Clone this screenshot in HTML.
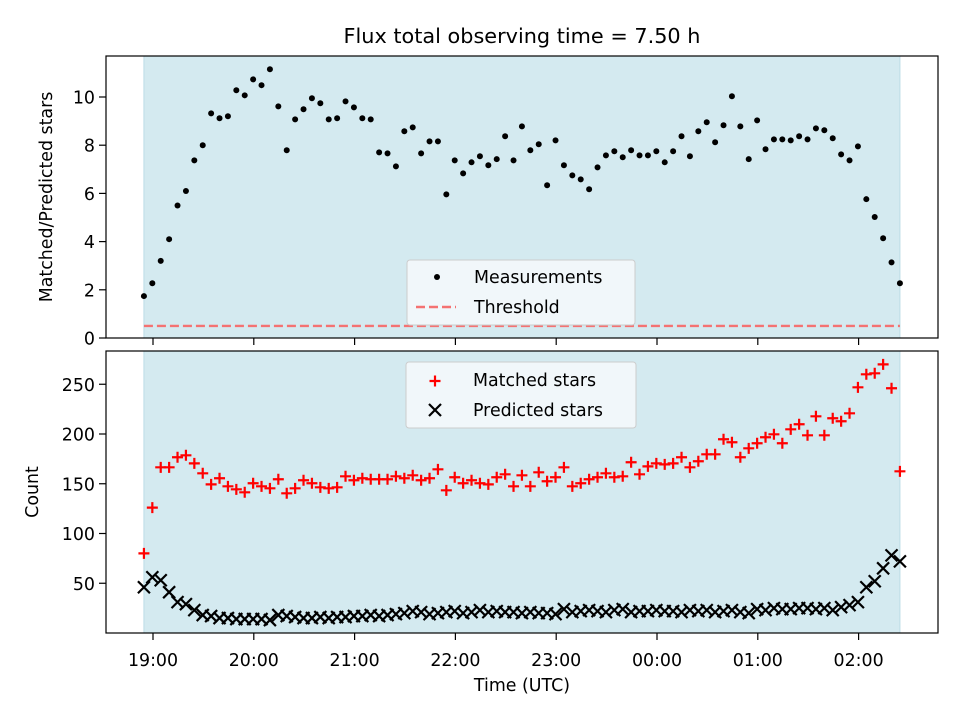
<!DOCTYPE html>
<html><head><meta charset="utf-8"><style>
body{margin:0;background:#fff}
svg{display:block;font-family:"DejaVu Sans","Liberation Sans",sans-serif}
</style></head><body>
<svg id="chart" width="960" height="720" xmlns="http://www.w3.org/2000/svg">
<text x="522" y="43" font-size="20.8" text-anchor="middle">Flux total observing time = 7.50 h</text>
<text transform="translate(52,197) rotate(-90)" font-size="17.4" text-anchor="middle">Matched/Predicted stars</text>
<text transform="translate(38,492) rotate(-90)" font-size="17.4" text-anchor="middle">Count</text>
<text x="522" y="691" font-size="17.4" text-anchor="middle">Time (UTC)</text>
<g id="g"></g>
</svg>
<script>
const ratio=[1.74,2.27,3.2,4.1,5.5,6.1,7.37,8.0,9.32,9.12,9.2,10.28,10.07,10.73,10.49,11.15,9.61,7.79,9.07,9.49,9.95,9.74,9.07,9.12,9.82,9.57,9.12,9.07,7.7,7.66,7.12,8.58,8.74,7.66,8.16,8.16,5.96,7.37,6.83,7.29,7.54,7.17,7.42,8.37,7.37,8.78,7.79,8.04,6.34,8.2,7.17,6.75,6.58,6.17,7.08,7.58,7.75,7.5,7.79,7.58,7.58,7.75,7.29,7.75,8.37,7.54,8.58,8.95,8.12,8.83,10.03,8.78,7.42,9.03,7.83,8.24,8.24,8.2,8.37,8.24,8.7,8.62,8.29,7.62,7.37,7.95,5.76,5.02,4.14,3.14,2.27];
const matched=[80,126,166.5,166.5,176.6,178.6,170.5,160.5,149.4,155.5,147.4,144.4,141.4,150.5,147.4,145.4,154.5,140.4,145.4,153.5,150.5,146.4,145.4,146.4,157.5,153.5,155.5,154.5,154.5,154.5,157.5,155.5,158.5,153.5,155.5,164.5,143.4,156.5,150.5,153.5,150.5,149.4,156.5,159.5,147.4,158.5,147.4,161.5,152.5,156.5,166.5,147.4,150.5,154.5,156.5,160.5,156.5,157.5,171.6,159.5,167.5,170.5,169.5,170.5,176.6,166.5,172.6,179.6,179.6,194.7,191.7,176.6,185.6,190.7,196.7,199.7,190.7,204.7,209.8,198.7,217.8,198.7,215.8,212.8,220.8,246.9,260,261,270,246,162.5];
const predicted=[46,56,53,41,31,29,23,18,17,15,15,14,14,14,14,13,18,17,16,15,15,16,15,16,16,17,17,18,17,18,19,20,22,21,19,20,21,22,20,21,23,21,22,21,21,20,21,20,20,19,24,21,22,23,22,21,23,24,21,22,22,23,22,22,21,23,22,23,21,22,23,21,20,24,23,25,24,24,25,25,24,25,23,26,28,31,46,52,65,78,72];
const topTicks=[0,2,4,6,8,10];
const botTicks=[50,100,150,200,250];
const xTickLabels=["19:00","20:00","21:00","22:00","23:00","00:00","01:00","02:00"];
const startMin=-5.4, stepMin=5, threshold=0.5;

const NS="http://www.w3.org/2000/svg";
const g=document.getElementById('g');
function el(t,a,p){const e=document.createElementNS(NS,t);for(const k in a)e.setAttribute(k,a[k]);(p||g).appendChild(e);return e;}
const L=106,R=938,FS=17.4;
const xS=m=>153+m*100.8/60;
const yTop=v=>338-v*24.1;
const yBot=v=>633-v*0.995;
const tMin=i=>startMin+i*stepMin;
const x0=xS(tMin(0)), x1=xS(tMin(ratio.length-1));

[[56,338,'top'],[351,633,'bottom']].forEach(([t,b,n])=>{
  const s=el('rect',{x:x0,y:t,width:x1-x0,height:b-t,fill:'#d4eaf0',stroke:'#bcdce6','stroke-width':1});
  
  
  const f=el('rect',{x:L,y:t,width:R-L,height:b-t,fill:'none',stroke:'#000','stroke-width':1.2});
  
  
  xTickLabels.forEach((lb,i)=>{
    const x=xS(i*60);
    const tk=el('line',{x1:x,x2:x,y1:b,y2:b+7,stroke:'#000','stroke-width':1.2});
    
    
  });
});
xTickLabels.forEach((lb,i)=>{
  const t=el('text',{x:xS(i*60),y:666,'font-size':FS,'text-anchor':'middle'});
  t.textContent=lb;
  
  
});
topTicks.forEach(v=>{
  const y=yTop(v);
  el('line',{x1:L-7,x2:L,y1:y,y2:y,stroke:'#000','stroke-width':1.2});
  const t=el('text',{x:L-11,y:y+6.5,'font-size':FS,'text-anchor':'end'});
  t.textContent=v;
  
  
});
botTicks.forEach(v=>{
  const y=yBot(v);
  el('line',{x1:L-7,x2:L,y1:y,y2:y,stroke:'#000','stroke-width':1.2});
  const t=el('text',{x:L-11,y:y+6.5,'font-size':FS,'text-anchor':'end'});
  t.textContent=v;
  
  
});
const th=el('line',{x1:x0,x2:x1,y1:yTop(threshold),y2:yTop(threshold),stroke:'#f47272','stroke-width':2.4,'stroke-dasharray':'9,4'});


ratio.forEach((v,i)=>{
  const c=el('circle',{cx:xS(tMin(i)),cy:yTop(v),r:3,fill:'#000'});
  
  
});
function plus(x,y,p){el('path',{d:`M${x-5.5},${y}H${x+5.5}M${x},${y-5.5}V${y+5.5}`,stroke:'#f00','stroke-width':2.2,fill:'none'},p);}
function cross(x,y,p){el('path',{d:`M${x-6},${y-6}L${x+6},${y+6}M${x-6},${y+6}L${x+6},${y-6}`,stroke:'#000','stroke-width':2.2,fill:'none'},p);}
matched.forEach((v,i)=>{
  const gg=el('g',{});
  
  
  plus(xS(tMin(i)),yBot(v),gg);
});
predicted.forEach((v,i)=>{
  const gg=el('g',{});
  
  
  cross(xS(tMin(i)),yBot(v),gg);
});
const lg1=el('g',{});


el('rect',{x:407,y:260,width:228,height:65,rx:3,fill:'#f6f9fc','fill-opacity':0.85,stroke:'#ccc'},lg1);
el('circle',{cx:437,cy:277,r:3,fill:'#000'},lg1);
let t=el('text',{x:474,y:283,'font-size':FS},lg1);t.textContent='Measurements';
el('line',{x1:416,x2:456,y1:307,y2:307,stroke:'#f47272','stroke-width':2.4,'stroke-dasharray':'9,4'},lg1);
t=el('text',{x:474,y:313,'font-size':FS},lg1);t.textContent='Threshold';
const lg2=el('g',{});


el('rect',{x:406,y:362,width:230,height:66,rx:3,fill:'#f6f9fc','fill-opacity':0.85,stroke:'#ccc'},lg2);
plus(435,381,lg2);
t=el('text',{x:473,y:386,'font-size':FS},lg2);t.textContent='Matched stars';
cross(435,410,lg2);
t=el('text',{x:473,y:416,'font-size':FS},lg2);t.textContent='Predicted stars';
</script>
</body></html>
